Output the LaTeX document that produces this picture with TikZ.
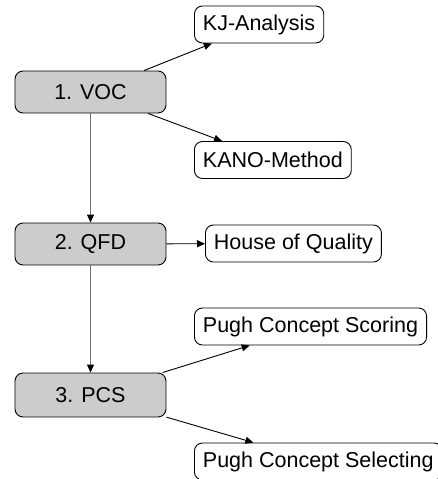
\documentclass[tikz,border=0pt]{standalone}
\usepackage{fontspec}
\setmainfont{Liberation Sans}
\usetikzlibrary{arrows.meta}
\begin{document}
\begin{tikzpicture}[x=1pt,y=-1pt,
  font=\fontsize{21.5}{25}\selectfont,
  stage/.style={draw=black, line width=0.9pt, fill=black!20, rounded corners=8pt,
    minimum width=151pt, minimum height=42pt, inner sep=0pt},
  tool/.style={draw=black, line width=0.9pt, fill=white, rounded corners=8pt,
    minimum height=37pt, inner xsep=8.5pt, inner ysep=0pt, anchor=west},
  conn/.style={line width=0.9pt, -{Triangle[length=8pt,width=7pt]}},
  vconn/.style={line width=1pt, draw=black!55, -{Triangle[length=8pt,width=7pt,color=black]}}
]
\useasboundingbox (0,0) rectangle (438,479);
\node[stage] (voc) at (90.5,92) {1. VOC};
\node[stage] (qfd) at (90.5,244) {2. QFD};
\node[stage, minimum height=44pt] (pcs) at (90.5,395) {3. PCS};
\node[tool] (kj) at (194,24.5) {KJ-Analysis};
\node[tool] (kano) at (194,160) {KANO-Method};
\node[tool] (hoq) at (205,243.5) {House of Quality};
\node[tool] (pcsc) at (194,326.5) {Pugh Concept Scoring};
\node[tool] (pcse) at (194,461.5) {Pugh Concept Selecting};
\draw[conn] (voc) -- (kj);
\draw[conn] (voc) -- (kano);
\draw[vconn] (voc) -- (qfd);
\draw[conn] (qfd) -- (hoq);
\draw[vconn] (qfd) -- (pcs);
\draw[conn] (pcs) -- (pcsc);
\draw[conn] (pcs) -- (pcse);
\end{tikzpicture}
\end{document}
